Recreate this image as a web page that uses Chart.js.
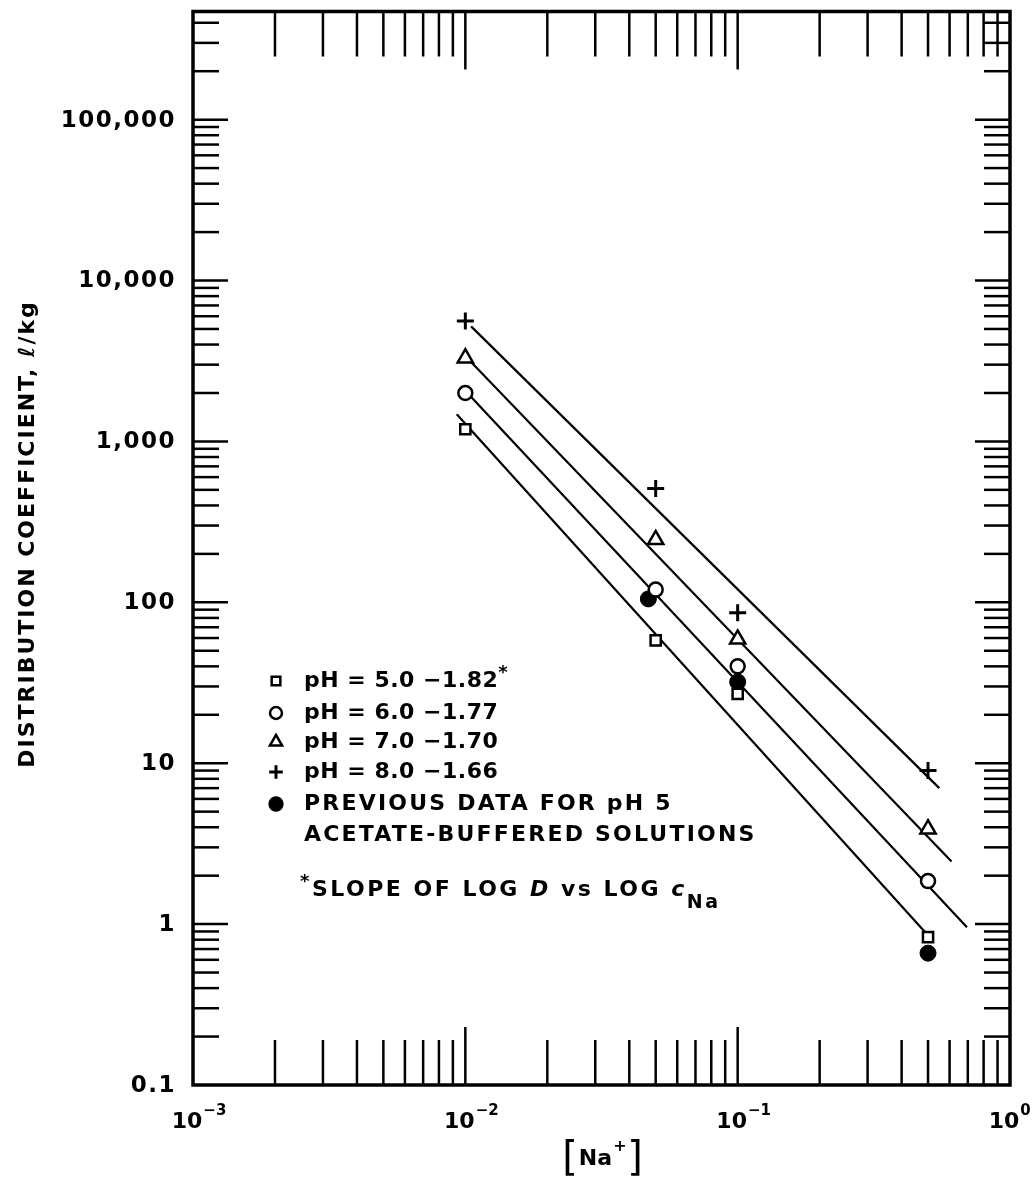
<!DOCTYPE html>
<html>
<head>
<meta charset="utf-8">
<title>Distribution coefficient vs [Na+]</title>
<script src="https://cdn.jsdelivr.net/npm/chart.js@4/dist/chart.umd.min.js"></script>
<style>
  html, body { margin: 0; padding: 0; background: #fff; }
  canvas { display: block; }
</style>
</head>
<body>
<canvas id="kdChart" width="1035" height="1180"></canvas>
<script>
// Sodium concentration of the batch solutions
const naConc = [0.01, 0.05, 0.1, 0.5];
// Distribution coefficients (L/kg) per pH
const ph5Kd = [1190, 58, 27, 0.83];
const ph6Kd = [2000, 120, 40, 1.85];
const ph7Kd = [3300, 245, 59, 3.9];
const ph8Kd = [5600, 510, 86, 9];
// Earlier acetate-buffered pH 5 runs
const prevConc = [0.047, 0.1, 0.5];
const prevKd = [105, 32, 0.66];

// Least-squares lines: end points of each fit, pH 5 .. pH 8
const fitStartConc = [0.0093, 0.0102, 0.0102, 0.0105];
const fitEndConc = [0.52, 0.695, 0.61, 0.55];
const fitStartKd = [1476, 1990, 3280, 5190];
const fitEndKd = [0.79, 0.955, 2.45, 7.0];

const seriesNames = ['pH = 5.0', 'pH = 6.0', 'pH = 7.0', 'pH = 8.0'];
const seriesSlopes = ['\u22121.82', '\u22121.77', '\u22121.70', '\u22121.66'];
const prevLabel = ['PREVIOUS DATA FOR pH 5', 'ACETATE-BUFFERED SOLUTIONS'];

// Axis ticks
const xTickValues = [0.001, 0.01, 0.1, 1];
const xTickExponents = ['\u22123', '\u22122', '\u22121', '0'];
const yTickValues = [0.1, 1, 10, 100, 1000, 10000, 100000];
const yTickLabels = ['0.1', '1', '10', '100', '1,000', '10,000', '100,000'];
const minorSteps = [2, 3, 4, 5, 6, 7, 8, 9];

const FONT = '"DejaVu Sans", sans-serif';
const INK = '#000';

const points = (xs, ys) => xs.map((x, i) => ({ x: x, y: ys[i] }));

const markerSets = [
  { data: ph5Kd, pointStyle: 'rect', pointRadius: 7.2, backgroundColor: '#fff' },
  { data: ph6Kd, pointStyle: 'circle', pointRadius: 7, backgroundColor: '#fff' },
  { data: ph7Kd, pointStyle: 'triangle', pointRadius: 8.8, backgroundColor: '#fff' },
  { data: ph8Kd, pointStyle: 'cross', pointRadius: 8.5, backgroundColor: '#fff', borderWidth: 3 }
].map((d, i) => ({
  label: seriesNames[i] + ' ' + seriesSlopes[i],
  data: points(naConc, d.data),
  pointStyle: d.pointStyle,
  pointRadius: d.pointRadius,
  backgroundColor: d.backgroundColor,
  borderColor: INK,
  borderWidth: d.borderWidth || 2.5,
  showLine: false,
  order: 1
}));

const prevSet = {
  label: prevLabel.join(' '),
  data: points(prevConc, prevKd),
  pointStyle: 'circle',
  pointRadius: 8,
  backgroundColor: INK,
  borderColor: INK,
  borderWidth: 1,
  showLine: false,
  order: 2
};

const fitSets = seriesNames.map((name, i) => ({
  label: name + ' fit',
  data: [{ x: fitStartConc[i], y: fitStartKd[i] }, { x: fitEndConc[i], y: fitEndKd[i] }],
  showLine: true,
  borderColor: INK,
  borderWidth: 2.2,
  pointRadius: 0,
  fill: false,
  order: 3
}));

// draws a row of text pieces with different fonts / offsets, returns end x
function drawRuns(ctx, x, y, parts, spacing) {
  ctx.letterSpacing = (spacing || 0) + 'px';
  for (const p of parts) {
    ctx.font = p.font;
    ctx.fillText(p.text, x, y + (p.dy || 0));
    x += ctx.measureText(p.text).width;
  }
  return x;
}

const framePlugin = {
  id: 'frameAndText',
  afterDraw(chart) {
    const ctx = chart.ctx;
    const xs = chart.scales.x, ys = chart.scales.y;
    const { left, right, top, bottom } = chart.chartArea;
    ctx.save();
    ctx.strokeStyle = INK;
    ctx.fillStyle = INK;

    // inward ticks on all four sides
    ctx.lineWidth = 2.5;
    ctx.lineCap = 'butt';
    const tick = (x1, y1, x2, y2) => {
      ctx.beginPath(); ctx.moveTo(x1, y1); ctx.lineTo(x2, y2); ctx.stroke();
    };
    for (let i = 0; i < xTickValues.length - 1; i++) {
      minorSteps.forEach(m => {
        const px = xs.getPixelForValue(xTickValues[i] * m);
        tick(px, top, px, top + 45);
        tick(px, bottom, px, bottom - 45);
      });
      if (i > 0) {
        const px = xs.getPixelForValue(xTickValues[i]);
        tick(px, top, px, top + 58);
        tick(px, bottom, px, bottom - 58);
      }
    }
    yTickValues.forEach((v, i) => {
      minorSteps.forEach(m => {
        const val = v * m;
        if (val >= ys.max) return;
        const py = ys.getPixelForValue(val);
        tick(left, py, left + 26, py);
        tick(right, py, right - 26, py);
      });
      if (i > 0) {
        const py = ys.getPixelForValue(v);
        tick(left, py, left + 35, py);
        tick(right, py, right - 35, py);
      }
    });

    // plot frame
    ctx.lineWidth = 3.5;
    ctx.strokeRect(left, top, right - left, bottom - top);

    // y tick labels
    ctx.textAlign = 'right';
    ctx.textBaseline = 'middle';
    ctx.font = 'bold 23px ' + FONT;
    ctx.letterSpacing = '1.5px';
    yTickValues.forEach((v, i) => {
      ctx.fillText(yTickLabels[i], left - 17, ys.getPixelForValue(v) + 1);
    });

    // x tick labels, powers of ten
    ctx.textAlign = 'left';
    ctx.textBaseline = 'alphabetic';
    ctx.letterSpacing = '0px';
    xTickValues.forEach((v, i) => {
      const px = xs.getPixelForValue(v);
      ctx.font = 'bold 22px ' + FONT;
      const w = ctx.measureText('10').width;
      const x0 = px - w / 2 - 6;
      ctx.fillText('10', x0, bottom + 43);
      ctx.font = 'bold 15px ' + FONT;
      ctx.fillText(xTickExponents[i], x0 + w + 1, bottom + 30);
    });

    // x axis title [Na+]
    const cx = (left + right) / 2;
    ctx.font = 'bold 22px ' + FONT;
    const naW = ctx.measureText('Na').width;
    ctx.font = '40px ' + FONT;
    const brW = ctx.measureText('[').width;
    const x1 = cx - (naW + 14) / 2 - brW;
    ctx.fillText('[', x1, bottom + 85);
    ctx.font = 'bold 22px ' + FONT;
    ctx.fillText('Na', x1 + brW + 1, bottom + 80);
    ctx.font = 'bold 16px ' + FONT;
    ctx.fillText('+', x1 + brW + naW + 2, bottom + 66);
    ctx.font = '40px ' + FONT;
    ctx.fillText(']', x1 + brW + naW + 16, bottom + 85);

    // y axis title
    ctx.save();
    ctx.translate(28, 534);
    ctx.rotate(-Math.PI / 2);
    ctx.textAlign = 'center';
    ctx.textBaseline = 'middle';
    ctx.font = 'bold 22px ' + FONT;
    ctx.letterSpacing = '2px';
    ctx.fillText('DISTRIBUTION COEFFICIENT, \u2113/kg', 0, 0);
    ctx.restore();

    // key
    const rows = [681, 713, 742, 772, 804];
    const symX = 276, textX = 304;
    const keySets = chart.data.datasets.filter(d => !d.showLine);
    const legendScale = [0.85, 0.85, 0.8, 0.8, 0.8];
    keySets.forEach((ds, i) => {
      ctx.fillStyle = ds.backgroundColor;
      ctx.strokeStyle = INK;
      ctx.lineWidth = ds.pointStyle === 'cross' ? 3 : 2.5;
      Chart.helpers.drawPoint(ctx, {
        pointStyle: ds.pointStyle,
        radius: ds.pointRadius * legendScale[i],
        rotation: 0,
        borderWidth: ctx.lineWidth
      }, symX, rows[i]);
    });
    ctx.fillStyle = INK;
    ctx.textAlign = 'left';
    ctx.textBaseline = 'middle';
    seriesNames.forEach((name, i) => {
      const end = drawRuns(ctx, textX, rows[i], [
        { text: name + ' ' + seriesSlopes[i], font: 'bold 22px ' + FONT }
      ], 0.5);
      if (i === 0) {
        drawRuns(ctx, end, rows[i], [{ text: '*', font: 'bold 18px ' + FONT, dy: -8 }], 0);
      }
    });
    drawRuns(ctx, textX, rows[4], [{ text: prevLabel[0], font: 'bold 22px ' + FONT }], 2.2);
    drawRuns(ctx, textX, 835, [{ text: prevLabel[1], font: 'bold 22px ' + FONT }], 2.2);

    // slope footnote
    drawRuns(ctx, 300, 890, [
      { text: '*', font: 'bold 18px ' + FONT, dy: -8 },
      { text: 'SLOPE OF LOG ', font: 'bold 22px ' + FONT },
      { text: 'D', font: 'italic bold 22px ' + FONT },
      { text: ' vs LOG ', font: 'bold 22px ' + FONT },
      { text: 'c', font: 'italic bold 22px ' + FONT },
      { text: 'Na', font: 'bold 19px ' + FONT, dy: 13 }
    ], 2.5);

    ctx.restore();
  }
};

new Chart(document.getElementById('kdChart'), {
  type: 'scatter',
  data: { datasets: [...markerSets, prevSet, ...fitSets] },
  options: {
    responsive: false,
    animation: false,
    devicePixelRatio: 1,
    layout: { padding: { top: 10, right: 25, left: 0, bottom: 0 } },
    plugins: { legend: { display: false }, tooltip: { enabled: false } },
    scales: {
      x: {
        type: 'logarithmic',
        min: 0.001,
        max: 1,
        grid: { display: false },
        border: { display: false },
        ticks: { display: false },
        afterFit(scale) { scale.height = 95; }
      },
      y: {
        type: 'logarithmic',
        min: 0.1,
        max: 470000,
        grid: { display: false },
        border: { display: false },
        ticks: { display: false },
        afterFit(scale) { scale.width = 193; }
      }
    }
  },
  plugins: [framePlugin]
});
</script>
</body>
</html>
